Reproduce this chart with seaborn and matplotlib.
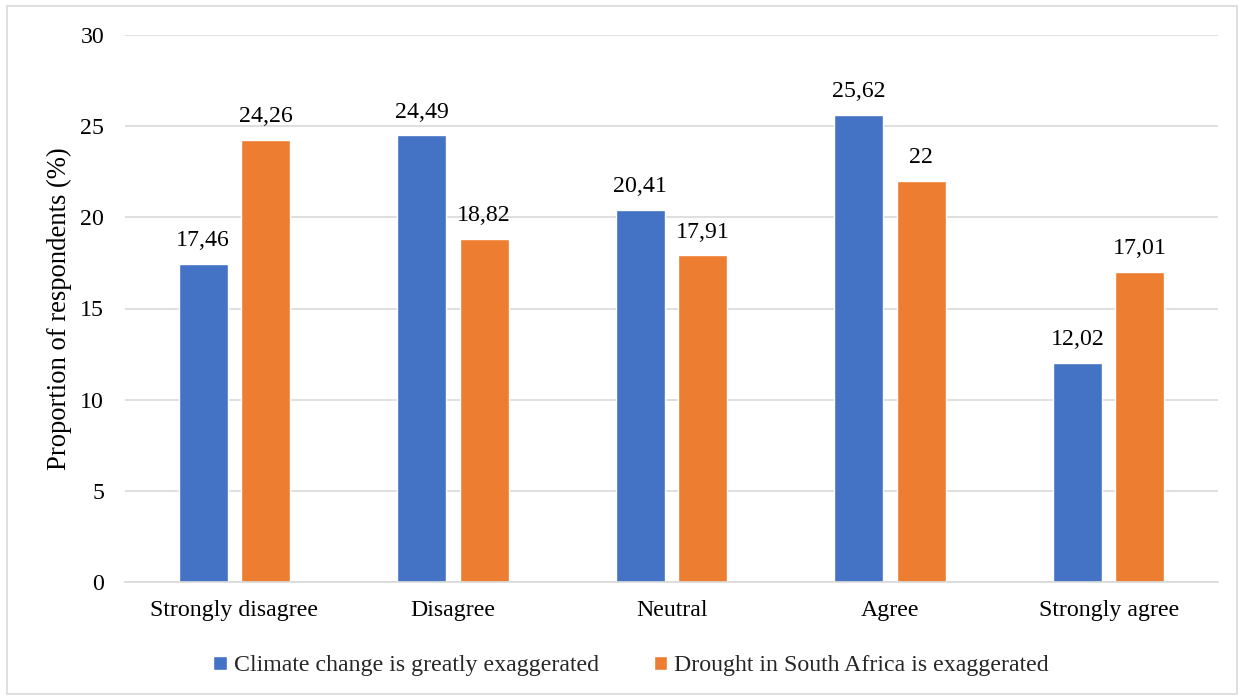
import matplotlib
matplotlib.use("Agg")
import matplotlib.pyplot as plt
import seaborn as sns
import pandas as pd
from matplotlib.patches import Rectangle

categories = ["Strongly disagree", "Disagree", "Neutral", "Agree", "Strongly agree"]
series_names = ["Climate change is greatly exaggerated", "Drought in South Africa is exaggerated"]
climate_vals = [17.46, 24.49, 20.41, 25.62, 12.02]
drought_vals = [24.26, 18.82, 17.91, 22.0, 17.01]
climate_labels = ["17,46", "24,49", "20,41", "25,62", "12,02"]
drought_labels = ["24,26", "18,82", "17,91", "22", "17,01"]
colors = ["#4472C4", "#ED7D31"]

df = pd.DataFrame({
    "category": categories * 2,
    "series": [series_names[0]] * 5 + [series_names[1]] * 5,
    "value": climate_vals + drought_vals,
})

sns.set_theme(style="white")
plt.rcParams["font.family"] = ["Liberation Serif", "DejaVu Serif"]

FS = 17.2
fig = plt.figure(figsize=(12.44, 6.98), dpi=100)
ax = fig.add_axes([125 / 1244, 1 - 582 / 698, 1093 / 1244, 547 / 698])

sns.barplot(data=df, x="category", y="value", hue="series", order=categories,
            hue_order=series_names, palette=colors, width=0.572, gap=0.217,
            saturation=1, ax=ax, legend=True)

ax.set_ylim(0, 30)
ax.set_xlim(-0.5, 4.5)
ax.set_yticks([0, 5, 10, 15, 20, 25, 30])
ax.yaxis.grid(True, color="#d9d9d9", linewidth=1.2)
ax.set_axisbelow(True)
for s in ["top", "right", "left"]:
    ax.spines[s].set_visible(False)
ax.spines["bottom"].set_color("#d9d9d9")
ax.spines["bottom"].set_linewidth(1.2)
ax.tick_params(axis="both", length=0, labelsize=FS, colors="black")
ax.tick_params(axis="y", pad=15)
ax.tick_params(axis="x", pad=13)
ax.set_xlabel("")
ax.set_ylabel("Proportion of respondents (%)", fontsize=19.2, color="black", labelpad=6)

for container, labels in zip(ax.containers, [climate_labels, drought_labels]):
    ax.bar_label(container, labels=labels, padding=9, fontsize=FS, color="black")

handles, lbls = ax.get_legend_handles_labels()
ax.legend(handles, lbls, loc="upper center", bbox_to_anchor=(0.463, -0.095), ncol=2,
          frameon=False, fontsize=FS, handlelength=0.55, handleheight=0.55,
          handletextpad=0.3, columnspacing=2.3)

fig.add_artist(Rectangle((7 / 1244, 4 / 698), 1230 / 1244, 688 / 698, transform=fig.transFigure,
                         fill=False, edgecolor="#d9d9d9", linewidth=1.2))

fig.savefig("out.png", dpi=100)
